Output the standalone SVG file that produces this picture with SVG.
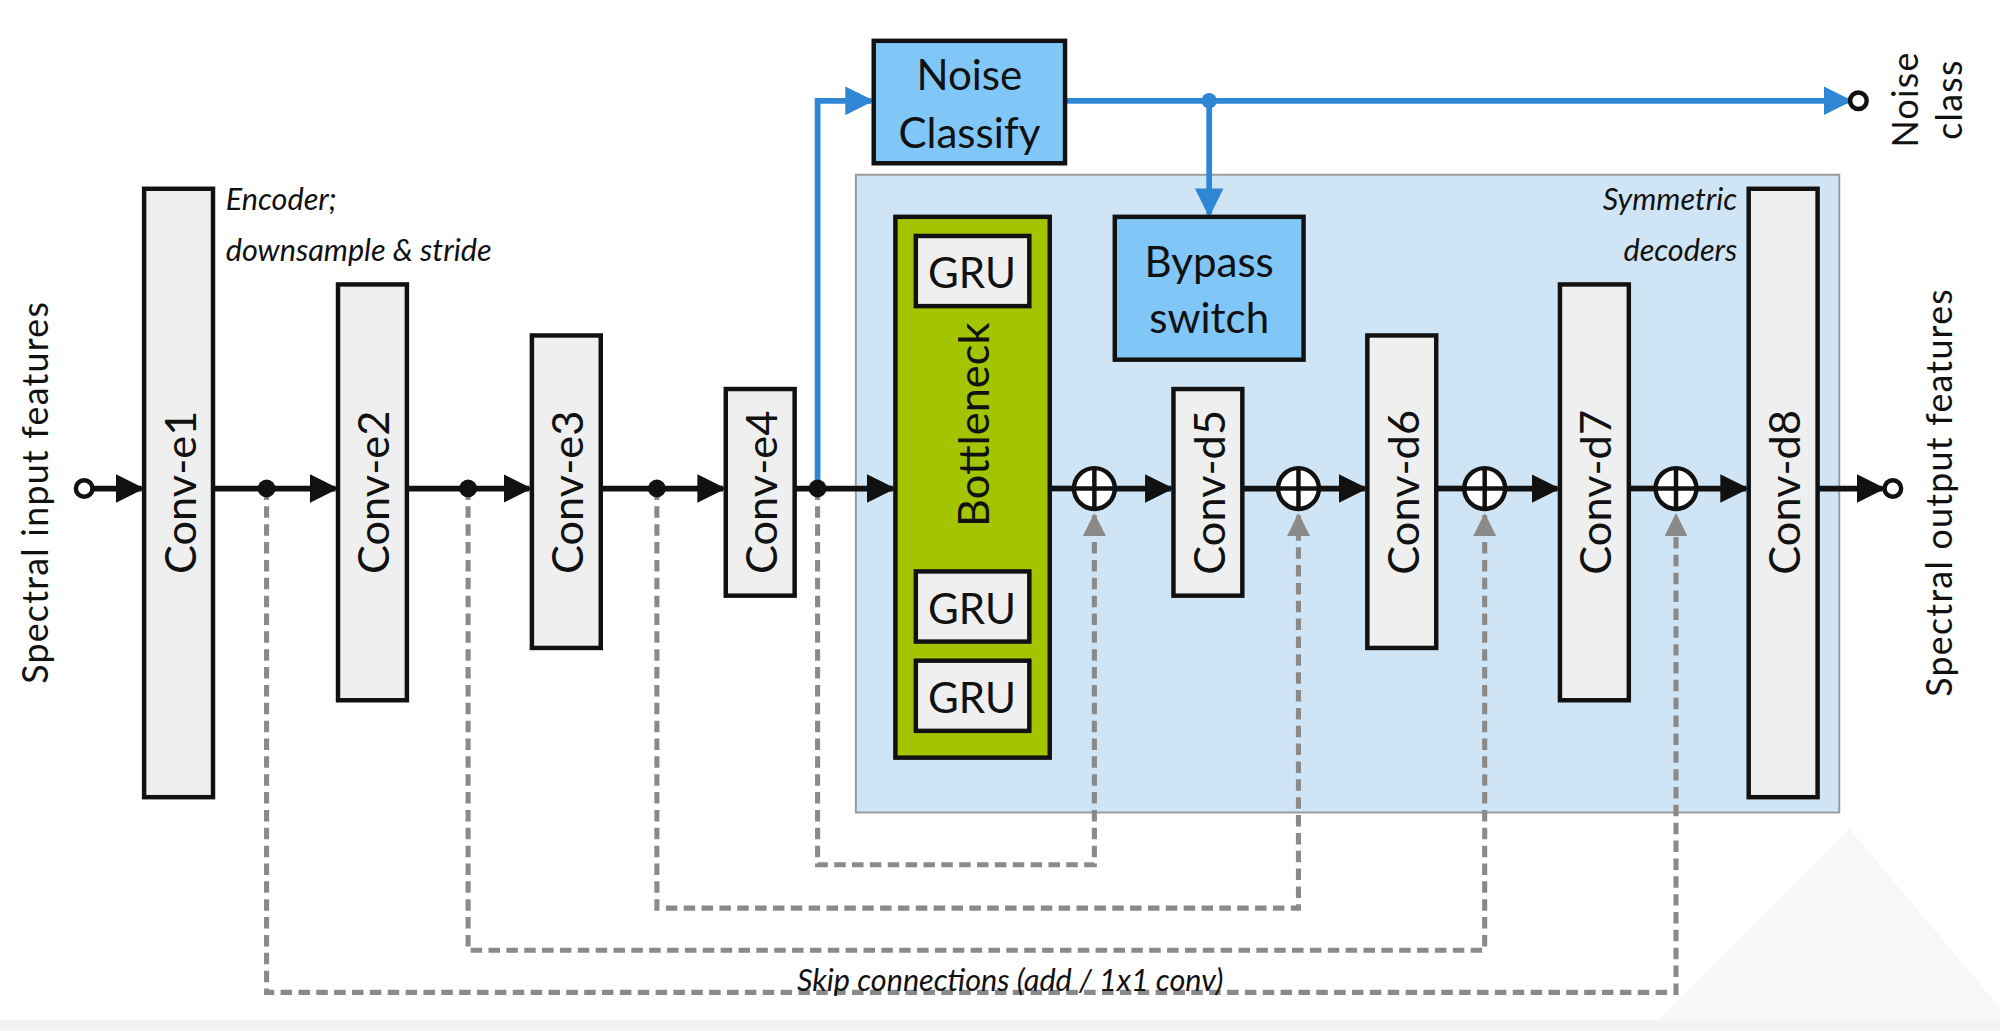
<svg xmlns="http://www.w3.org/2000/svg" width="2000" height="1031" viewBox="0 0 2000 1031">
<defs>
<style>
.box{fill:#efefef;stroke:#111;stroke-width:3.5}
.lbl{font-family:Lato,"Noto Sans",sans-serif;font-size:34px;fill:#111;text-anchor:middle;dominant-baseline:central}
.big{font-size:33px}
.it{font-family:Lato,"Noto Sans",sans-serif;font-style:italic;font-size:24px;fill:#111}
.side{font-size:28px;letter-spacing:1px}
.main{stroke:#111;stroke-width:4.5;fill:none}
.blue{stroke:#2e86d4;stroke-width:4.5;fill:none}
.dash{stroke:#8a8a8a;stroke-width:4;fill:none;stroke-dasharray:9 5}
</style>
<marker id="ak" viewBox="0 0 10 10" refX="9" refY="5" markerWidth="5" markerHeight="5" orient="auto" markerUnits="strokeWidth"><path d="M0,0L10,5L0,10z" fill="#111"/></marker>
<marker id="ab" viewBox="0 0 10 10" refX="9" refY="5" markerWidth="5" markerHeight="5" orient="auto" markerUnits="strokeWidth"><path d="M0,0L10,5L0,10z" fill="#2e86d4"/></marker>
<marker id="ag" viewBox="0 0 10 10" refX="9" refY="5" markerWidth="4.5" markerHeight="4.5" orient="auto" markerUnits="strokeWidth"><path d="M0,0L10,5L0,10z" fill="#8a8a8a"/></marker>
</defs>
<g transform="scale(1.2755)">
<rect x="0" y="0" width="1568" height="808" fill="#fff"/>
<rect x="0" y="800" width="1568" height="8" fill="#f2f2f2"/>
<polygon points="1450,650 1568,790 1568,800 1300,800" fill="#f7f7f7"/>
<g id="panel"><rect x="671" y="137" width="771" height="500" fill="#cfe5f5" stroke="#999" stroke-width="1.5"/></g>
<g id="connectors">
<path class="dash" d="M641,383V678H858V404" marker-end="url(#ag)"/>
<path class="dash" d="M515,383V712H1018V404" marker-end="url(#ag)"/>
<path class="dash" d="M367,383V745H1164V404" marker-end="url(#ag)"/>
<path class="dash" d="M209,383V778H1314V404" marker-end="url(#ag)"/>
<path class="main" d="M72,383H111" marker-end="url(#ak)"/>
<path class="main" d="M167,383H263" marker-end="url(#ak)"/>
<path class="main" d="M319,383H415" marker-end="url(#ak)"/>
<path class="main" d="M471,383H567" marker-end="url(#ak)"/>
<path class="main" d="M623,383H700" marker-end="url(#ak)"/>
<path class="main" d="M823,383H842"/>
<path class="main" d="M874,383H918" marker-end="url(#ak)"/>
<path class="main" d="M974,383H1002"/>
<path class="main" d="M1034,383H1070" marker-end="url(#ak)"/>
<path class="main" d="M1126,383H1148"/>
<path class="main" d="M1180,383H1221" marker-end="url(#ak)"/>
<path class="main" d="M1277,383H1298"/>
<path class="main" d="M1330,383H1369" marker-end="url(#ak)"/>
<path class="main" d="M1425,383H1476" marker-end="url(#ak)"/>
<path class="blue" d="M641,383V79H683" marker-end="url(#ab)"/>
<path class="blue" d="M835,79H1450" marker-end="url(#ab)"/>
<path class="blue" d="M948,79V168" marker-end="url(#ab)"/>
<circle cx="948" cy="79" r="6" fill="#2e86d4"/>
<circle cx="209" cy="383" r="7" fill="#111"/>
<circle cx="367" cy="383" r="7" fill="#111"/>
<circle cx="515" cy="383" r="7" fill="#111"/>
<circle cx="641" cy="383" r="7" fill="#111"/>
<circle cx="66" cy="383" r="6.5" fill="#fff" stroke="#111" stroke-width="3.5"/>
<circle cx="1484" cy="383" r="6.5" fill="#fff" stroke="#111" stroke-width="3.5"/>
<circle cx="1457" cy="79" r="6.5" fill="#fff" stroke="#111" stroke-width="3.5"/>
</g>
<g id="sums" fill="#fff" stroke="#111" stroke-width="3.5">
<g id="s1"><circle cx="858" cy="383" r="16"/><path d="M842,383H874M858,367V399"/></g>
<g id="s2"><circle cx="1018" cy="383" r="16"/><path d="M1002,383H1034M1018,367V399"/></g>
<g id="s3"><circle cx="1164" cy="383" r="16"/><path d="M1148,383H1180M1164,367V399"/></g>
<g id="s4"><circle cx="1314" cy="383" r="16"/><path d="M1298,383H1330M1314,367V399"/></g>
</g>
<g id="e1"><rect class="box" x="113" y="148" width="54" height="477"/><text class="lbl" transform="translate(140,386) rotate(-90)">Conv-e1</text></g>
<g id="e2"><rect class="box" x="265" y="223" width="54" height="326"/><text class="lbl" transform="translate(292,386) rotate(-90)">Conv-e2</text></g>
<g id="e3"><rect class="box" x="417" y="263" width="54" height="245"/><text class="lbl" transform="translate(444,386) rotate(-90)">Conv-e3</text></g>
<g id="e4"><rect class="box" x="569" y="305" width="54" height="162"/><text class="lbl" transform="translate(596,386) rotate(-90)">Conv-e4</text></g>
<g id="bottleneck"><rect x="702" y="170" width="121" height="424" fill="#a3c400" stroke="#111" stroke-width="3.5"/><text class="lbl" transform="translate(762,333) rotate(-90)">Bottleneck</text>
<rect class="box" x="718" y="185" width="89" height="55"/><text class="lbl big" x="762" y="213">GRU</text>
<rect class="box" x="718" y="448" width="89" height="55"/><text class="lbl big" x="762" y="476">GRU</text>
<rect class="box" x="718" y="518" width="89" height="55"/><text class="lbl big" x="762" y="546">GRU</text></g>
<g id="noise"><rect x="685" y="32" width="150" height="96" fill="#80c6f7" stroke="#111" stroke-width="3.5"/><text class="lbl big" x="760" y="58">Noise</text><text class="lbl big" x="760" y="103">Classify</text></g>
<g id="bypass"><rect x="874" y="170" width="148" height="112" fill="#80c6f7" stroke="#111" stroke-width="3.5"/><text class="lbl big" x="948" y="204">Bypass</text><text class="lbl big" x="948" y="248">switch</text></g>
<g id="d5"><rect class="box" x="920" y="305" width="54" height="162"/><text class="lbl" transform="translate(947,386) rotate(-90)">Conv-d5</text></g>
<g id="d6"><rect class="box" x="1072" y="263" width="54" height="245"/><text class="lbl" transform="translate(1099,386) rotate(-90)">Conv-d6</text></g>
<g id="d7"><rect class="box" x="1223" y="223" width="54" height="326"/><text class="lbl" transform="translate(1250,386) rotate(-90)">Conv-d7</text></g>
<g id="d8"><rect class="box" x="1371" y="148" width="54" height="477"/><text class="lbl" transform="translate(1398,386) rotate(-90)">Conv-d8</text></g>
<g id="texts">
<text class="it" x="177" y="165">Encoder;</text>
<text class="it" x="177" y="205">downsample &amp; stride</text>
<text class="it" x="1362" y="165" text-anchor="end">Symmetric</text>
<text class="it" x="1362" y="205" text-anchor="end">decoders</text>
<text class="it" x="792" y="777" text-anchor="middle">Skip connections (add / 1x1 conv)</text>
<text class="lbl side" transform="translate(27,386) rotate(-90)">Spectral input features</text>
<text class="lbl side" transform="translate(1520,386) rotate(-90)">Spectral output features</text>
<text class="lbl side" transform="translate(1493,78) rotate(-90)">Noise</text>
<text class="lbl side" transform="translate(1528,78) rotate(-90)">class</text>
</g>
</g>
</svg>
